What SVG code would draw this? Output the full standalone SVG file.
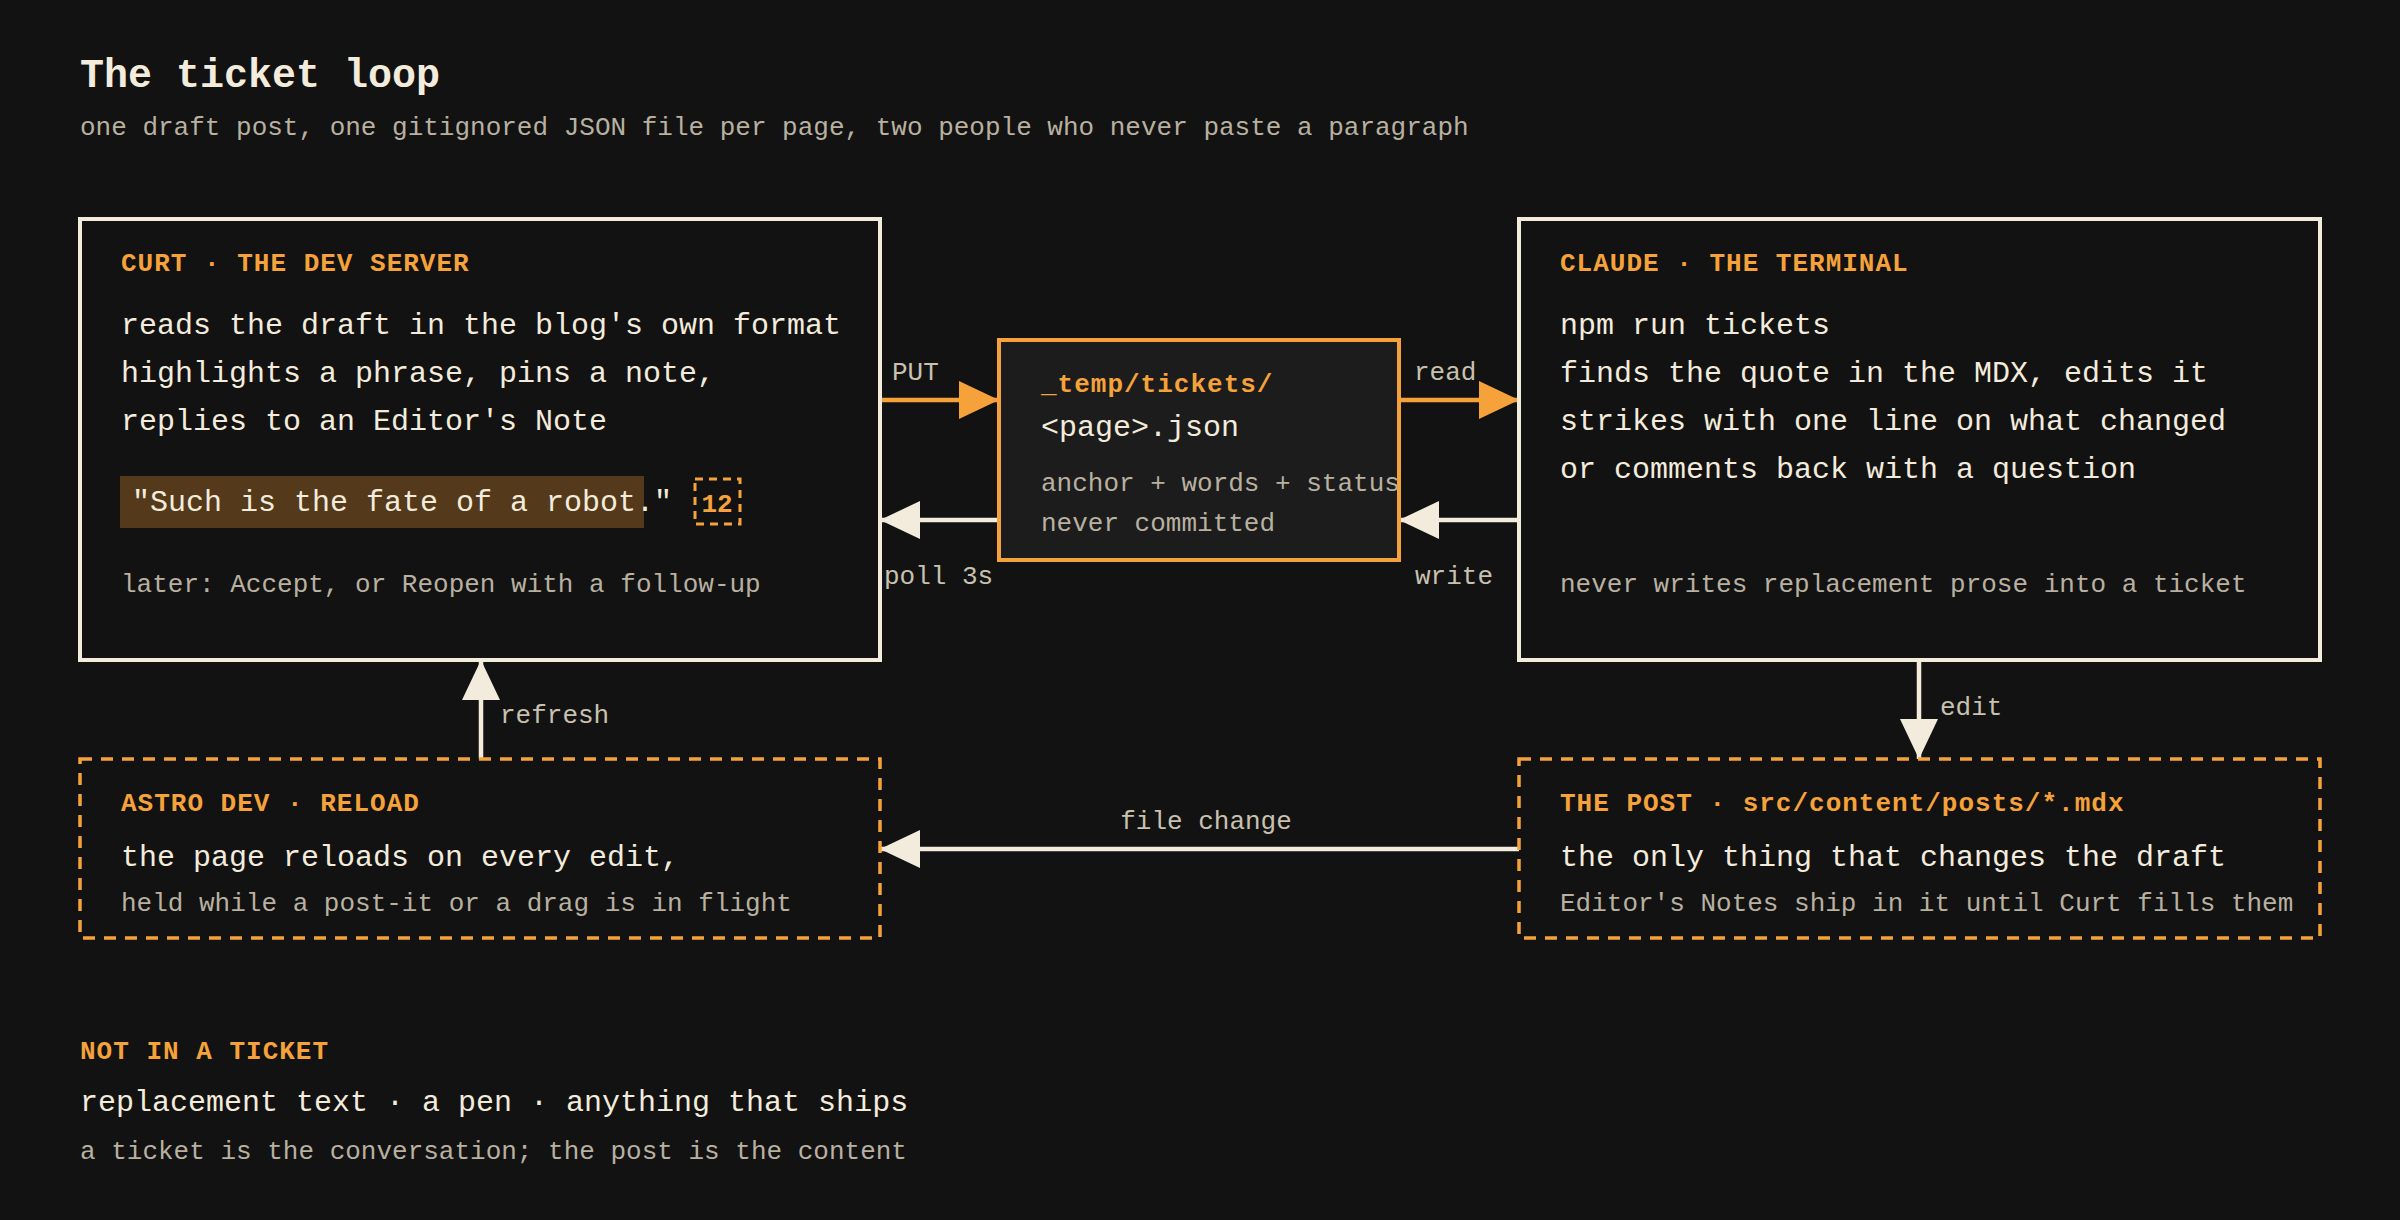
<svg xmlns="http://www.w3.org/2000/svg" width="2400" height="1220" viewBox="0 0 2400 1220">
<style>
text{font-family:"Liberation Mono","DejaVu Sans Mono",monospace}
.title{font-size:40px;font-weight:bold;fill:#f3ecdc}
.sub{font-size:26px;fill:#b8b0a0}
.hd{font-size:26px;font-weight:bold;fill:#f5a23a;letter-spacing:1px}
.body{font-size:30px;fill:#f3ecdc}
.muted{font-size:26px;fill:#b8b0a0}
.lbl{font-size:26px;fill:#c9c1b0}
.box{fill:#121212;stroke:#f3ecdc;stroke-width:4}
.dbox{fill:#121212;stroke:#f5a23a;stroke-width:3.5;stroke-dasharray:12 9}
.obox{fill:#1c1c1c;stroke:#f5a23a;stroke-width:4}
.lo{stroke:#f5a23a;stroke-width:4.5;fill:none}
.lc{stroke:#f3ecdc;stroke-width:4.5;fill:none}
</style>
<defs>
<marker id="ao" markerUnits="userSpaceOnUse" markerWidth="40" markerHeight="38" refX="40" refY="19" orient="auto"><path d="M0,0 L40,19 L0,38 z" fill="#f5a23a"/></marker>
<marker id="ac" markerUnits="userSpaceOnUse" markerWidth="40" markerHeight="38" refX="40" refY="19" orient="auto"><path d="M0,0 L40,19 L0,38 z" fill="#f3ecdc"/></marker>
</defs>
<rect width="2400" height="1220" fill="#121212"/>
<text class="title" x="80" y="87">The ticket loop</text>
<text class="sub" x="80" y="135">one draft post, one gitignored JSON file per page, two people who never paste a paragraph</text>

<g id="connectors">
<line class="lo" x1="880" y1="400" x2="999" y2="400" marker-end="url(#ao)"/>
<text class="lbl" x="892" y="380">PUT</text>
<line class="lc" x1="999" y1="520" x2="880" y2="520" marker-end="url(#ac)"/>
<text class="lbl" x="884" y="584">poll 3s</text>
<line class="lo" x1="1399" y1="400" x2="1519" y2="400" marker-end="url(#ao)"/>
<text class="lbl" x="1414" y="380">read</text>
<line class="lc" x1="1519" y1="520" x2="1399" y2="520" marker-end="url(#ac)"/>
<text class="lbl" x="1415" y="584">write</text>
<line class="lc" x1="1919" y1="660" x2="1919" y2="759" marker-end="url(#ac)"/>
<text class="lbl" x="1940" y="715">edit</text>
<line class="lc" x1="1519" y1="849" x2="880" y2="849" marker-end="url(#ac)"/>
<text class="lbl" x="1206" y="829" text-anchor="middle">file change</text>
<line class="lc" x1="481" y1="759" x2="481" y2="660" marker-end="url(#ac)"/>
<text class="lbl" x="500" y="723">refresh</text>
</g>

<g id="curt">
<rect class="box" x="80" y="219" width="800" height="441"/>
<text class="hd" x="121" y="271">CURT · THE DEV SERVER</text>
<text class="body" x="121" y="334">reads the draft in the blog's own format</text>
<text class="body" x="121" y="382">highlights a phrase, pins a note,</text>
<text class="body" x="121" y="430">replies to an Editor's Note</text>
<rect x="120" y="476" width="524" height="52" fill="#54391b"/>
<text class="body" x="132" y="511">"Such is the fate of a robot."</text>
<rect x="695" y="479" width="45" height="45" fill="none" stroke="#f5a23a" stroke-width="3" stroke-dasharray="8 6"/>
<text x="717" y="512" text-anchor="middle" font-size="26" font-weight="bold" fill="#f5a23a">12</text>
<text class="muted" x="121" y="592">later: Accept, or Reopen with a follow-up</text>
</g>

<g id="tickets">
<rect class="obox" x="999" y="340" width="400" height="220"/>
<text class="hd" x="1041" y="392" letter-spacing="0">_temp/tickets/</text>
<text class="body" x="1041" y="436">&lt;page&gt;.json</text>
<text class="muted" x="1041" y="491">anchor + words + status</text>
<text class="muted" x="1041" y="531">never committed</text>
</g>

<g id="claude">
<rect class="box" x="1519" y="219" width="801" height="441"/>
<text class="hd" x="1560" y="271">CLAUDE · THE TERMINAL</text>
<text class="body" x="1560" y="334">npm run tickets</text>
<text class="body" x="1560" y="382">finds the quote in the MDX, edits it</text>
<text class="body" x="1560" y="430">strikes with one line on what changed</text>
<text class="body" x="1560" y="478">or comments back with a question</text>
<text class="muted" x="1560" y="592">never writes replacement prose into a ticket</text>
</g>

<g id="post">
<rect class="dbox" x="1519" y="759" width="801" height="179"/>
<text class="hd" x="1560" y="811">THE POST · src/content/posts/*.mdx</text>
<text class="body" x="1560" y="866">the only thing that changes the draft</text>
<text class="muted" x="1560" y="911">Editor's Notes ship in it until Curt fills them</text>
</g>

<g id="astro">
<rect class="dbox" x="80" y="759" width="800" height="179"/>
<text class="hd" x="121" y="811">ASTRO DEV · RELOAD</text>
<text class="body" x="121" y="866">the page reloads on every edit,</text>
<text class="muted" x="121" y="911">held while a post-it or a drag is in flight</text>
</g>

<g id="notes">
<text class="hd" x="80" y="1059">NOT IN A TICKET</text>
<text class="body" x="80" y="1111">replacement text · a pen · anything that ships</text>
<text class="muted" x="80" y="1159">a ticket is the conversation; the post is the content</text>
</g>
</svg>
